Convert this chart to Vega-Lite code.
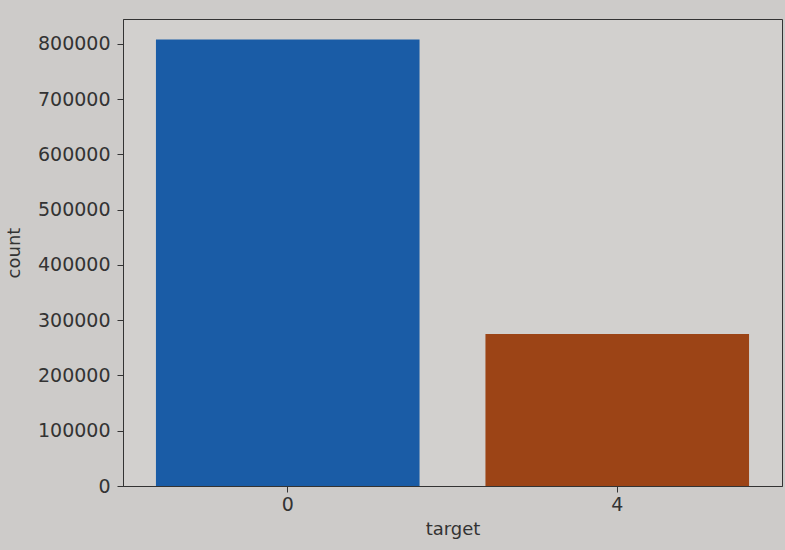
{
  "$schema": "https://vega.github.io/schema/vega-lite/v6.json",
  "autosize": {"type": "none"},
  "width": 659,
  "height": 467,
  "padding": {"left": 123, "top": 19, "right": 3, "bottom": 64},
  "background": "#cdcbc9",
  "data": {"values": [
    {"target": "0", "count": 808000, "color": "c0"},
    {"target": "4", "count": 275000, "color": "c4"}
  ]},
  "mark": {"type": "bar"},
  "encoding": {
    "x": {
      "field": "target", "type": "nominal", "sort": null,
      "scale": {"paddingInner": 0.2, "paddingOuter": 0.1},
      "axis": {"labelAngle": 0, "title": "target", "labelFontSize": 19, "titleFontSize": 18, "titleFontWeight": "normal",
               "labelFont": "DejaVu Sans", "titleFont": "DejaVu Sans", "labelColor": "#333333", "titleColor": "#333333",
               "domainColor": "#333333", "tickColor": "#333333", "tickSize": 6, "labelPadding": 3, "titlePadding": 6}
    },
    "y": {
      "field": "count", "type": "quantitative",
      "scale": {"domain": [0, 845000], "nice": false},
      "axis": {"values": [0, 100000, 200000, 300000, 400000, 500000, 600000, 700000, 800000], "format": "d", "grid": false,
               "title": "count", "labelFontSize": 19, "titleFontSize": 18, "titleFontWeight": "normal",
               "labelFont": "DejaVu Sans", "titleFont": "DejaVu Sans", "labelColor": "#333333", "titleColor": "#333333",
               "domainColor": "#333333", "tickColor": "#333333", "tickSize": 6, "labelPadding": 7, "titlePadding": 14}
    },
    "color": {"field": "color", "type": "nominal", "legend": null,
              "scale": {"domain": ["c0", "c4"], "range": ["#1a5ca6", "#9c4416"]}}
  },
  "config": {"view": {"stroke": "#333333", "fill": "#d2d0ce"}}
}
